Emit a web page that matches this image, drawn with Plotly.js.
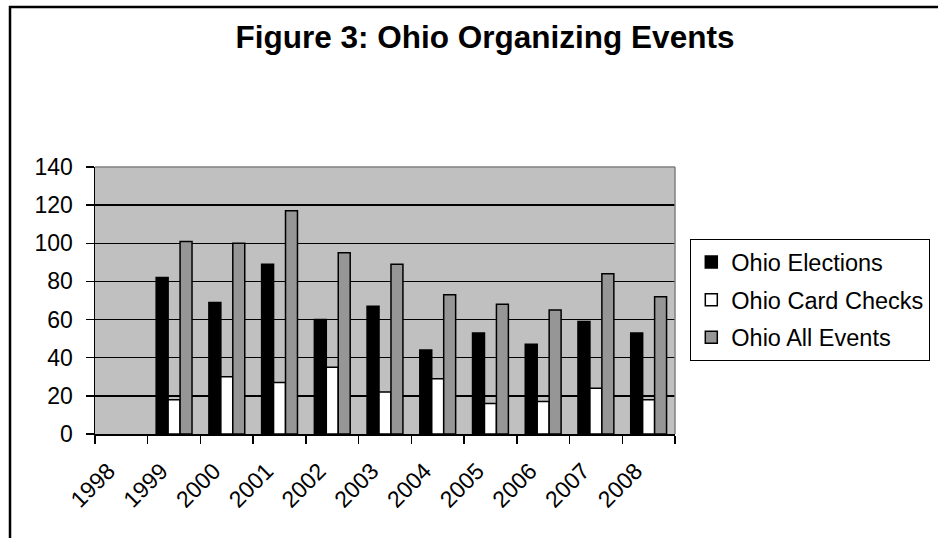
<!DOCTYPE html>
<html>
<head>
<meta charset="utf-8">
<script src="https://cdn.plot.ly/plotly-3.0.1.min.js"></script>
<style>
html,body{margin:0;padding:0;background:#fff;}
#chart{width:938px;height:538px;}
</style>
</head>
<body>
<div id="chart"></div>
<script>
const categories = ["1998","1999","2000","2001","2002","2003","2004","2005","2006","2007","2008"];
const ohioElections = [null, 82, 69, 89, 60, 67, 44, 53, 47, 59, 53];
const ohioCardChecks = [null, 18, 30, 27, 35, 22, 29, 16, 17, 24, 18];
const ohioAllEvents = [null, 101, 100, 117, 95, 89, 73, 68, 65, 84, 72];
const seriesNames = ["Ohio Elections", "Ohio Card Checks", "Ohio All Events"];

const W = 938, H = 538;
const M = {l: 95, r: 263, t: 167, b: 104, autoexpand: false};
const pw = W - M.l - M.r, ph = H - M.t - M.b;
const px2x = p => (p - M.l) / pw;
const py2y = p => (H - M.b - p) / ph;

const font = "Arial, 'Liberation Sans', sans-serif";
const line = {color: "#000000", width: 1.5};

const traces = [
  {type: "bar", x: categories, y: ohioElections, name: seriesNames[0], legendgroup: "a",
   marker: {color: "#000000", line: line}},
  {type: "bar", x: categories, y: ohioCardChecks, name: seriesNames[1], legendgroup: "b",
   marker: {color: "#ffffff", line: line}},
  {type: "bar", x: categories, y: ohioAllEvents, name: seriesNames[2], legendgroup: "c",
   marker: {color: "#969696", line: line}}
];

const layout = {
  width: W, height: H,
  margin: M,
  paper_bgcolor: "#ffffff",
  plot_bgcolor: "#c0c0c0",
  font: {family: font, color: "#000000", size: 23},
  title: {text: "<b>Figure 3: Ohio Organizing Events</b>", font: {family: font, size: 31.5, color: "#000"},
          x: 485 / W, xref: "container", xanchor: "center", y: 1 - 37 / H, yref: "container", yanchor: "middle"},
  barmode: "group",
  bargap: 0.32,
  bargroupgap: 0,
  hovermode: false,
  showlegend: true,
  legend: {x: 690 / W, xref: "container", xanchor: "left", y: 1 - 239 / H, yref: "container", yanchor: "top",
           bordercolor: "#000000", borderwidth: 1.3, bgcolor: "#ffffff",
           font: {family: font, size: 23.5, color: "#000"},
           traceorder: "grouped", tracegroupgap: 4, itemwidth: 30},
  xaxis: {type: "category", tickson: "boundaries", ticks: "outside", ticklen: 8, tickwidth: 1.5, tickcolor: "#000",
          showline: true, linecolor: "#000", linewidth: 1.5, showgrid: false, tickangle: -45,
          tickfont: {family: font, size: 23}, ticklabelstandoff: 13, ticklabelshift: -13, fixedrange: true},
  yaxis: {range: [0, 140], dtick: 20, tick0: 0, ticks: "outside", ticklen: 8, tickwidth: 1.5, tickcolor: "#000",
          showline: true, linecolor: "#000", linewidth: 1.5, showgrid: true, gridcolor: "#000", gridwidth: 1.5,
          zeroline: false, tickfont: {family: font, size: 23}, ticklabelstandoff: 8, fixedrange: true},
  shapes: [
    {type: "line", xref: "paper", yref: "paper", x0: 0, x1: 1, y0: 1, y1: 1, line: {color: "#808080", width: 1.5}},
    {type: "line", xref: "paper", yref: "paper", x0: 1, x1: 1, y0: 0, y1: 1, line: {color: "#808080", width: 1.5}},
    {type: "rect", xref: "paper", yref: "paper", x0: px2x(10), x1: px2x(W + 20), y0: py2y(H + 20), y1: py2y(7),
     line: {color: "#000000", width: 2.5}, fillcolor: "rgba(0,0,0,0)", layer: "above"}
  ]
};

Plotly.newPlot("chart", traces, layout, {displayModeBar: false, staticPlot: true});
</script>
</body>
</html>
